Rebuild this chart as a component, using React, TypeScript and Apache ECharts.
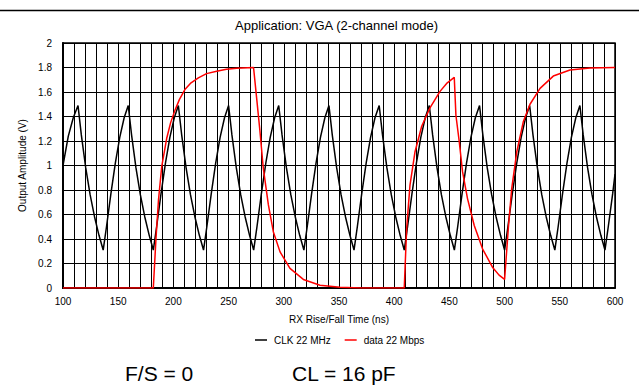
import React, { useEffect, useRef } from 'react';
import * as echarts from 'echarts';

const FONT = '"Liberation Sans", Arial, Helvetica, sans-serif';

const titleText = 'Application: VGA (2-channel mode)';
const xAxisName = 'RX Rise/Fall Time (ns)';
const yAxisName = 'Output Amplitude (V)';
const seriesNames = ['CLK 22 MHz', 'data 22 Mbps'];
const footNotes = ['F/S = 0', 'CL = 16 pF'];

// CLK 22 MHz (time ns, volts)
const clkPoints: [number, number][] = [
  [100.0, 1.0], [104.8, 1.24], [109.3, 1.39],
  [113.6, 1.49], [116.6, 1.25], [120.6, 0.98], [124.6, 0.76], [128.6, 0.58], [132.6, 0.43], [136.4, 0.31], [139.4, 0.5], [143.4, 0.77], [147.4, 1.02], [151.4, 1.23], [155.4, 1.39],
  [159.1, 1.49], [162.1, 1.25], [166.1, 0.98], [170.1, 0.76], [174.1, 0.58], [178.1, 0.43], [181.8, 0.31], [184.8, 0.5], [188.8, 0.77], [192.8, 1.02], [196.8, 1.23], [200.8, 1.39],
  [204.5, 1.49], [207.5, 1.25], [211.5, 0.98], [215.5, 0.76], [219.5, 0.58], [223.5, 0.43], [227.3, 0.31], [230.3, 0.5], [234.3, 0.77], [238.3, 1.02], [242.3, 1.23], [246.3, 1.39],
  [250.0, 1.49], [253.0, 1.25], [257.0, 0.98], [261.0, 0.76], [265.0, 0.58], [269.0, 0.43], [272.7, 0.31], [275.7, 0.5], [279.7, 0.77], [283.7, 1.02], [287.7, 1.23], [291.7, 1.39],
  [295.4, 1.49], [298.4, 1.25], [302.4, 0.98], [306.4, 0.76], [310.4, 0.58], [314.4, 0.43], [318.2, 0.31], [321.2, 0.5], [325.2, 0.77], [329.2, 1.02], [333.2, 1.23], [337.2, 1.39],
  [340.9, 1.49], [343.9, 1.25], [347.9, 0.98], [351.9, 0.76], [355.9, 0.58], [359.9, 0.43], [363.6, 0.31], [366.6, 0.5], [370.6, 0.77], [374.6, 1.02], [378.6, 1.23], [382.6, 1.39],
  [386.4, 1.49], [389.4, 1.25], [393.4, 0.98], [397.4, 0.76], [401.4, 0.58], [405.4, 0.43], [409.1, 0.31], [412.1, 0.5], [416.1, 0.77], [420.1, 1.02], [424.1, 1.23], [428.1, 1.39],
  [431.8, 1.49], [434.8, 1.25], [438.8, 0.98], [442.8, 0.76], [446.8, 0.58], [450.8, 0.43], [454.5, 0.31], [457.5, 0.5], [461.5, 0.77], [465.5, 1.02], [469.5, 1.23], [473.5, 1.39],
  [477.3, 1.49], [480.3, 1.25], [484.3, 0.98], [488.3, 0.76], [492.3, 0.58], [496.3, 0.43], [500.0, 0.31], [503.0, 0.5], [507.0, 0.77], [511.0, 1.02], [515.0, 1.23], [519.0, 1.39],
  [522.7, 1.49], [525.7, 1.25], [529.7, 0.98], [533.7, 0.76], [537.7, 0.58], [541.7, 0.43], [545.5, 0.31], [548.5, 0.5], [552.5, 0.77], [556.5, 1.02], [560.5, 1.23], [564.5, 1.39],
  [568.2, 1.49], [571.2, 1.25], [575.2, 0.98], [579.2, 0.76], [583.2, 0.58], [587.2, 0.43], [590.9, 0.31], [593.9, 0.5], [597.9, 0.77], [600.0, 0.93],
];

// data 22 Mbps (time ns, volts)
const dataPoints: [number, number][] = [
  [100.0, 0], [181.8, 0], [184.2, 0.4], [186.5, 0.72], [189.4, 0.99], [193.9, 1.22], [197.5, 1.35], [201.4, 1.45], [205.5, 1.54], [210.4, 1.62], [216.0, 1.675], [222.6, 1.715], [230.0, 1.75], [239.2, 1.77], [248.0, 1.785], [257.3, 1.793], [272.6, 1.8],
  [275.4, 1.55], [278.4, 1.28], [281.4, 0.98], [286.0, 0.68], [290.5, 0.46], [296.6, 0.295], [305.6, 0.16], [317.7, 0.07], [332.8, 0.022], [350.9, 0.006], [370.0, 0], [409.1, 0],
  [411.3, 0.49], [414.3, 0.84], [418.8, 1.11], [424.9, 1.32], [432.4, 1.47], [441.5, 1.605], [447.5, 1.67], [454.4, 1.72],
  [455.9, 1.41], [458.9, 1.196], [461.9, 0.95], [466.4, 0.73], [472.5, 0.51], [480.0, 0.32], [489.0, 0.17], [495.0, 0.105], [500.0, 0.07],
  [503.4, 0.49], [506.4, 0.81], [511.0, 1.11], [517.0, 1.36], [523.0, 1.5], [532.1, 1.63], [544.1, 1.73], [559.2, 1.78], [577.4, 1.795], [600.0, 1.8],
];

export default function App() {
  const ref = useRef<HTMLDivElement>(null);
  useEffect(() => {
    if (!ref.current) return;
    const chart = echarts.init(ref.current, null, { renderer: 'svg' });
    const gridLine = { show: true, lineStyle: { color: '#000', width: 1 } };
    const labelStyle = { fontFamily: FONT, fontSize: 10, color: '#000' };
    chart.setOption({
      animation: false,
      backgroundColor: '#fff',
      title: {
        text: titleText,
        left: 235,
        top: 19,
        padding: 0,
        textStyle: { fontFamily: FONT, fontSize: 13, fontWeight: 'normal', color: '#000' },
      },
      legend: {
        data: seriesNames,
        left: 255,
        top: 335,
        padding: 0,
        itemGap: 14,
        itemWidth: 12,
        itemHeight: 1.5,
        icon: 'rect',
        textStyle: { fontFamily: FONT, fontSize: 10, color: '#000', padding: [0, 0, 0, 2] },
      },
      grid: {
        left: 63,
        right: 24,
        top: 43,
        bottom: 102,
        show: true,
        borderColor: '#000',
        borderWidth: 1.5,
      },
      xAxis: {
        type: 'value',
        min: 100,
        max: 600,
        interval: 50,
        name: xAxisName,
        nameLocation: 'middle',
        nameGap: 26,
        nameTextStyle: labelStyle,
        axisLine: { show: true, lineStyle: { color: '#000', width: 2 } },
        axisTick: { show: false },
        minorTick: { show: false, splitNumber: 5 },
        axisLabel: { ...labelStyle, margin: 8 },
        splitLine: gridLine,
        minorSplitLine: gridLine,
      },
      yAxis: {
        type: 'value',
        min: 0,
        max: 2,
        interval: 0.2,
        name: yAxisName,
        nameLocation: 'middle',
        nameRotate: 90,
        nameGap: 34,
        nameTextStyle: labelStyle,
        axisLine: { show: true, lineStyle: { color: '#000', width: 2 } },
        axisTick: { show: false },
        axisLabel: { ...labelStyle, margin: 11 },
        splitLine: gridLine,
      },
      series: [
        {
          name: seriesNames[0],
          type: 'line',
          data: clkPoints,
          symbol: 'none',
          lineStyle: { color: '#000', width: 1.5 },
          itemStyle: { color: '#000' },
        },
        {
          name: seriesNames[1],
          type: 'line',
          data: dataPoints,
          symbol: 'none',
          lineStyle: { color: '#ff0000', width: 1.5 },
          itemStyle: { color: '#ff0000' },
        },
      ],
      graphic: [
        {
          type: 'line',
          shape: { x1: 0, y1: 10.5, x2: 639, y2: 10.5 },
          style: { stroke: '#000', lineWidth: 1.5 },
        },
        {
          type: 'text',
          left: 125,
          top: 363,
          style: { text: footNotes[0], fontFamily: FONT, fontSize: 21, fill: '#000' },
        },
        {
          type: 'text',
          left: 292,
          top: 363,
          style: { text: footNotes[1], fontFamily: FONT, fontSize: 21, fill: '#000' },
        },
      ],
    });
    return () => chart.dispose();
  }, []);
  return (
    <div
      ref={ref}
      style={{ position: 'absolute', left: 0, top: 0, width: 639, height: 390, background: '#fff' }}
    />
  );
}
